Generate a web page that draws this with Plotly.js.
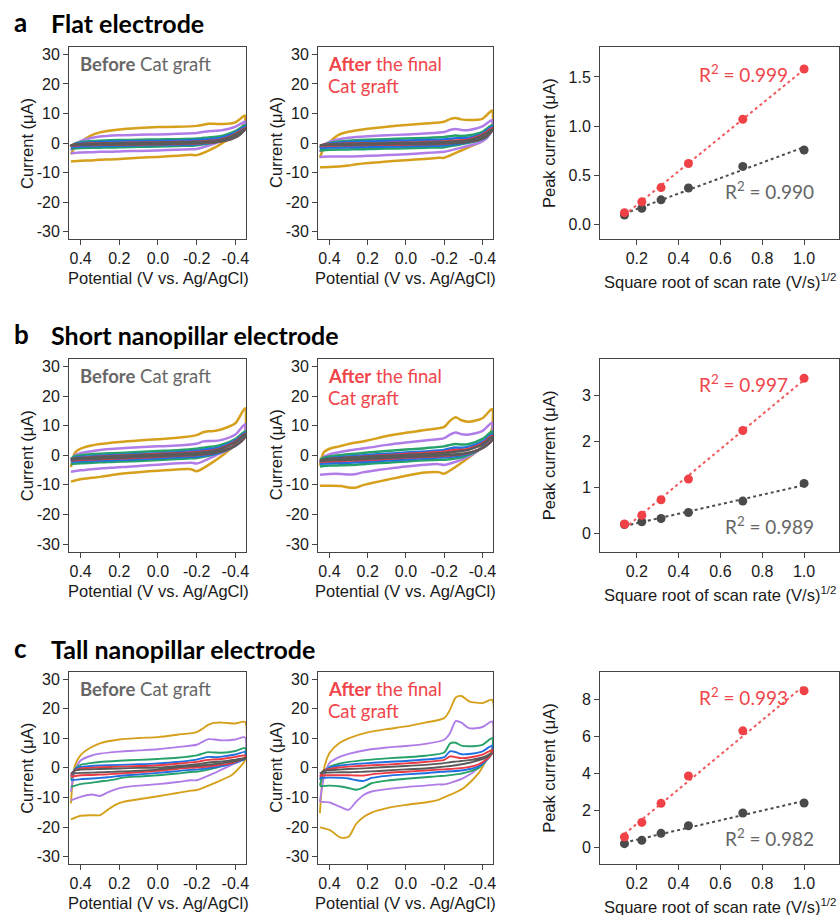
<!DOCTYPE html>
<html><head><meta charset="utf-8">
<script src="https://cdn.plot.ly/plotly-3.0.1.min.js"></script>
<style>html,body{margin:0;padding:0;background:#fff}#chart{width:840px;height:915px}</style>
</head><body><div id="chart"></div>
<script>
// ---------------- DATA ----------------
// potential grid (V vs Ag/AgCl): forward sweep (upper branch) and reverse sweep (lower branch)
const potFwd = [0.45, 0.43, 0.4, 0.35, 0.3, 0.2, 0.1, 0, -0.1, -0.2, -0.23, -0.26, -0.29, -0.33, -0.4, -0.45];
const potRev = [-0.45, -0.42, -0.38, -0.3, -0.2, -0.17, -0.1, 0, 0.1, 0.18, 0.22, 0.26, 0.3, 0.34, 0.4, 0.45];
// scan rates (V/s), order of series in every CV array below
const scanRates = [0.02, 0.05, 0.1, 0.2, 0.5, 1.0];
const seriesColors = ['#5a5a5a', '#ec3b43', '#1f6fe0', '#26a269', '#b07ce8', '#d6a01c'];

// Flat electrode, before
const aBeforeFwd = [
 [-0.8,-0.5,-0.4,-0.3,-0.2,-0.1,0,0.1,0.2,0.3,0.4,0.5,0.6,1.0,2.8,4.8],
 [-0.9,-0.5,-0.3,-0.2,-0.1,0,0.1,0.2,0.3,0.4,0.5,0.7,0.8,1.2,3.0,5.0],
 [-1.2,-0.4,0,0.2,0.3,0.5,0.6,0.7,0.8,1.0,1.1,1.3,1.4,1.8,3.5,5.5],
 [-1.5,-0.2,0.3,0.6,0.8,1.0,1.1,1.2,1.3,1.5,1.7,1.9,2.0,2.4,4.0,6.0],
 [-2.5,-0.6,0.6,1.6,2.2,2.6,2.8,2.9,3.1,3.4,3.7,4.0,4.1,4.3,5.5,7.3],
 [-3.8,-1.5,0.3,2.4,3.6,4.6,5.1,5.4,5.5,5.8,6.1,6.5,6.5,6.4,7.0,9.3]];
const aBeforeRev = [
 [4.6,2.6,1.3,0.3,0,-0.1,-0.2,-0.3,-0.4,-0.4,-0.5,-0.5,-0.5,-0.6,-0.6,-0.8],
 [4.8,2.8,1.4,0.3,-0.1,-0.2,-0.3,-0.4,-0.5,-0.5,-0.6,-0.6,-0.6,-0.7,-0.7,-0.9],
 [5.0,3.0,1.6,0.3,-0.4,-0.5,-0.6,-0.7,-0.8,-0.9,-0.9,-1.0,-1.0,-1.1,-1.2,-1.4],
 [5.5,3.5,2.0,0.3,-0.8,-0.9,-1.0,-1.2,-1.3,-1.4,-1.5,-1.5,-1.6,-1.6,-1.7,-1.9],
 [6.8,3.5,1.8,0,-2.0,-2.1,-2.3,-2.5,-2.7,-2.8,-2.9,-3.0,-3.0,-3.1,-3.2,-3.5],
 [7.5,3.8,2.0,-1.3,-4.1,-4.0,-4.3,-4.7,-5.0,-5.3,-5.5,-5.6,-5.7,-5.9,-6.0,-6.3]];
// Flat electrode, after
const aAfterFwd = [
 [-0.9,-0.6,-0.5,-0.4,-0.3,-0.2,-0.1,0,0.1,0.3,0.4,0.5,0.6,0.9,2.5,4.6],
 [-1.1,-0.6,-0.4,-0.3,-0.2,-0.1,0,0.1,0.3,0.5,0.7,0.8,0.9,1.2,2.8,5.0],
 [-1.5,-0.6,-0.2,0.1,0.3,0.5,0.7,0.8,1.0,1.2,1.4,1.6,1.6,1.8,3.2,5.5],
 [-1.8,-0.6,0,0.5,0.8,1.1,1.3,1.5,1.7,2.0,2.3,2.5,2.4,2.6,3.8,6.0],
 [-3.0,-0.8,0.4,1.3,1.8,2.3,2.6,2.9,3.2,3.7,4.4,4.7,4.4,4.4,5.6,7.7],
 [-5.0,-1.8,0.3,2.8,3.8,4.8,5.5,6.1,6.6,7.2,8.1,8.5,8.0,7.8,8.2,11.0]];
const aAfterRev = [
 [4.2,2.2,1.0,0.2,-0.1,-0.2,-0.3,-0.3,-0.4,-0.5,-0.5,-0.6,-0.6,-0.7,-0.7,-0.8],
 [4.3,2.3,1.1,0.3,-0.2,-0.3,-0.4,-0.5,-0.6,-0.6,-0.7,-0.7,-0.8,-0.8,-0.9,-1.0],
 [4.5,2.2,1.0,0,-0.8,-0.9,-1.0,-1.1,-1.2,-1.3,-1.3,-1.4,-1.4,-1.5,-1.5,-1.7],
 [4.5,2.0,0.9,-0.3,-1.4,-1.5,-1.6,-1.8,-1.9,-2.0,-2.1,-2.1,-2.2,-2.2,-2.3,-2.5],
 [4.5,1.5,0,-1.4,-3.0,-3.1,-3.4,-3.8,-4.1,-4.3,-4.4,-4.5,-4.6,-4.6,-4.6,-4.7],
 [5.0,1.8,0,-2.2,-5.0,-5.0,-5.4,-5.8,-6.3,-6.7,-6.9,-7.2,-7.6,-7.9,-8.1,-8.2]];
// Short nanopillar, before
const bBeforeFwd = [
 [-1.4,-1.1,-1.0,-0.8,-0.6,-0.3,0,0.2,0.5,0.8,1.0,1.2,1.5,2.2,4.4,7.0],
 [-1.5,-1.1,-0.9,-0.7,-0.5,-0.2,0.1,0.4,0.7,1.0,1.2,1.4,1.7,2.4,4.6,7.2],
 [-1.6,-0.9,-0.6,-0.4,-0.2,0.1,0.4,0.7,1.0,1.5,1.8,2.1,2.3,2.9,5.0,7.5],
 [-1.2,-0.3,0,0.3,0.5,0.8,1.1,1.4,1.7,2.2,2.5,2.8,3.0,3.6,5.5,8.0],
 [-2.0,0,0.7,1.3,1.8,2.3,2.7,3.0,3.3,3.9,4.6,4.8,4.8,5.2,7.0,10.5],
 [-4.0,0.8,2.2,3.2,3.8,4.5,5.0,5.4,5.9,6.8,7.7,8.1,8.2,8.8,10.8,15.9]];
const bBeforeRev = [
 [6.2,4.1,2.5,0.9,0.2,0.1,-0.1,-0.3,-0.6,-0.8,-0.9,-1.0,-1.1,-1.2,-1.3,-1.5],
 [6.3,4.2,2.6,0.9,0.1,0,-0.2,-0.5,-0.8,-1.0,-1.1,-1.2,-1.3,-1.4,-1.5,-1.7],
 [6.5,4.3,2.5,0.6,-0.4,-0.5,-0.7,-1.0,-1.3,-1.5,-1.6,-1.7,-1.8,-1.9,-2.0,-2.2],
 [6.5,4.5,2.6,0.5,-0.9,-1.0,-1.3,-1.6,-1.9,-2.1,-2.2,-2.3,-2.4,-2.5,-2.7,-3.0],
 [7.5,5.0,2.5,0,-2.8,-2.5,-2.7,-3.2,-3.6,-4.0,-4.1,-4.3,-4.5,-4.7,-5.1,-5.6],
 [8.0,5.2,2.4,-1.6,-5.4,-4.7,-4.8,-5.2,-5.7,-6.2,-6.5,-6.9,-7.3,-7.6,-8.1,-8.9]];
// Short nanopillar, after
const bAfterFwd = [
 [-1.7,-1.4,-1.2,-1.0,-0.8,-0.5,-0.2,0.1,0.4,0.8,1.0,1.2,1.4,1.9,3.7,6.2],
 [-2.0,-1.5,-1.3,-1.0,-0.8,-0.4,0,0.4,0.8,1.2,1.6,1.8,1.8,2.2,4.0,6.5],
 [-2.2,-1.4,-1.0,-0.7,-0.4,0.1,0.5,0.9,1.3,1.8,2.3,2.6,2.5,2.9,4.6,7.0],
 [-1.5,-0.8,-0.4,0,0.3,0.9,1.4,1.9,2.4,3.0,3.5,3.8,3.6,3.8,5.5,8.0],
 [-2.5,-0.5,0.3,1.0,1.6,2.5,3.5,4.3,5.0,5.8,7.0,7.7,7.1,7.0,8.2,11.0],
 [-3.5,1.0,2.2,3.0,3.8,5.0,6.5,7.6,8.5,9.6,11.6,12.8,11.8,11.3,12.5,15.6]];
const bAfterRev = [
 [5.1,3.2,1.8,0.5,0,-0.1,-0.3,-0.6,-0.9,-1.2,-1.3,-1.4,-1.5,-1.6,-1.7,-1.9],
 [5.3,3.4,1.8,0.4,-0.2,-0.3,-0.5,-0.8,-1.2,-1.5,-1.6,-1.7,-1.8,-1.9,-2.0,-2.2],
 [5.5,3.6,1.8,0.1,-0.7,-0.8,-1.0,-1.4,-1.8,-2.1,-2.3,-2.4,-2.5,-2.6,-2.7,-2.9],
 [6.0,4.0,1.8,-0.5,-1.5,-1.5,-1.7,-2.1,-2.5,-2.8,-3.0,-3.2,-3.3,-3.4,-3.5,-3.8],
 [7.5,4.5,1.7,-1.2,-3.3,-3.0,-3.2,-3.8,-4.6,-5.3,-5.7,-6.3,-6.5,-6.3,-6.3,-6.6],
 [9.0,5.2,1.9,-2.1,-6.2,-5.7,-5.8,-6.9,-8.3,-9.4,-10.0,-10.9,-10.9,-10.4,-10.3,-10.3]];
// Tall nanopillar, before
const cBeforeFwd = [
 [-2.0,-0.9,-0.6,-0.5,-0.4,-0.2,0,0.1,0.6,1.2,1.5,1.8,2.0,2.2,2.8,3.3],
 [-2.5,-0.8,-0.2,0,0.2,0.4,0.6,0.9,1.4,2.0,2.4,2.7,2.8,3.0,3.7,4.2],
 [-3.0,-0.5,0.3,0.6,0.8,1.0,1.2,1.5,2.0,2.8,3.3,3.7,3.6,3.8,4.5,5.4],
 [-4.0,-0.5,1.0,1.6,2.0,2.4,2.7,3.0,3.4,4.2,4.8,5.3,5.2,5.1,5.7,6.7],
 [-8.0,-1.0,2.5,4.0,4.8,5.5,5.9,6.3,7.0,7.8,8.8,9.7,9.6,9.3,9.6,10.3],
 [-12.0,0.5,4.3,6.8,8.3,9.6,10.1,10.4,11.2,12.1,13.2,14.5,15.2,15.3,15.0,15.5]];
const cBeforeRev = [
 [3.0,2.6,2.0,1.3,0.6,0.5,0.1,-0.6,-1.0,-1.2,-1.3,-1.4,-1.5,-1.6,-1.7,-1.9],
 [3.5,2.5,1.6,0.8,0.1,0,-0.3,-1.0,-1.5,-1.8,-2.0,-2.2,-2.3,-2.4,-2.5,-3.0],
 [3.0,2.2,1.4,0.3,-0.6,-0.7,-1.1,-1.7,-2.2,-2.6,-2.9,-3.2,-3.4,-3.6,-3.8,-4.2],
 [3.1,2.4,1.5,0,-1.3,-1.4,-1.9,-2.5,-2.9,-3.3,-3.9,-4.3,-4.6,-5.0,-5.5,-6.4],
 [3.7,2.2,1.0,-1.5,-4.2,-4.2,-4.8,-5.5,-6.0,-6.6,-7.3,-8.3,-9.5,-9.0,-9.8,-11.0],
 [2.6,0,-2.5,-4.9,-7.5,-7.7,-8.5,-9.6,-10.6,-11.5,-12.5,-14.2,-16.0,-16.0,-16.2,-17.4]];
// Tall nanopillar, after
const cAfterFwd = [
 [-2.0,-1.0,-0.8,-0.6,-0.4,-0.1,0.3,0.6,1.0,1.6,1.9,2.1,2.3,2.6,3.5,5.0],
 [-3.0,-0.9,-0.4,0.1,0.4,0.8,1.1,1.5,2.0,2.7,3.9,3.6,3.3,3.5,4.5,6.0],
 [-4.0,-1.0,0.1,0.7,1.1,1.6,2.0,2.3,2.8,3.6,5.6,5.3,4.6,4.7,5.6,7.5],
 [-6.0,-1.5,0.3,1.4,2.0,2.7,3.2,3.6,4.1,5.2,8.2,8.5,7.5,7.3,7.8,10.0],
 [-11.5,-3.5,1.6,3.6,4.7,6.1,6.9,7.4,8.1,9.5,11.7,15.8,15.3,13.4,13.8,15.7],
 [-15.3,-0.7,5.0,8.3,10.0,12.0,13.1,14.0,15.3,16.8,19.6,23.8,24.3,22.5,21.9,23.0]];
const cAfterRev = [
 [5.0,3.5,2.5,1.3,0.4,0.2,-0.2,-0.5,-0.9,-1.2,-1.3,-1.4,-1.5,-1.5,-1.6,-1.7],
 [5.0,2.8,1.2,0,-0.5,-0.6,-0.9,-1.3,-1.7,-2.2,-2.6,-2.6,-2.5,-2.5,-2.5,-2.6],
 [5.0,2.5,0.5,-0.8,-1.3,-1.4,-1.8,-2.2,-2.7,-3.4,-4.4,-4.2,-3.6,-3.4,-3.3,-3.4],
 [5.0,2.5,0,-1.8,-2.7,-2.8,-3.2,-3.7,-4.3,-5.2,-6.6,-7.4,-6.8,-6.3,-6.0,-6.2],
 [5.5,3.0,0,-3.5,-5.6,-5.6,-6.0,-6.5,-7.2,-8.0,-9.1,-11.4,-14.2,-13.3,-11.7,-11.4],
 [6.5,2.7,-1.8,-6.9,-10.0,-10.8,-11.7,-12.5,-13.6,-15.1,-16.5,-18.9,-23.3,-23.6,-21.0,-20.1]];

// Peak current vs square root of scan rate
const sqrtScanRate = [0.141, 0.224, 0.316, 0.447, 0.707, 1.0];
const flatAfterPeak   = [0.12, 0.23, 0.375, 0.62, 1.07, 1.58];
const flatBeforePeak  = [0.095, 0.165, 0.25, 0.37, 0.59, 0.757];
const shortAfterPeak  = [0.2, 0.39, 0.73, 1.18, 2.24, 3.38];
const shortBeforePeak = [0.19, 0.25, 0.32, 0.45, 0.7, 1.085];
const tallAfterPeak   = [0.56, 1.35, 2.38, 3.86, 6.3, 8.47];
const tallBeforePeak  = [0.2, 0.38, 0.76, 1.17, 1.86, 2.4];
const r2After  = ['0.999', '0.997', '0.993'];
const r2Before = ['0.990', '0.989', '0.982'];

const panelLetters = ['a', 'b', 'c'];
const panelTitles = ['Flat electrode', 'Short nanopillar electrode', 'Tall nanopillar electrode'];
const cvTickVals = [0.4, 0.2, 0, -0.2, -0.4];
const cvTickText = ['0.4', '0.2', '0.0', '-0.2', '-0.4'];
const curTickVals = [-30, -20, -10, 0, 10, 20, 30];
const curTickText = ['-30', '-20', '-10', '0', '10', '20', '30'];
const rateTickVals = [0.2, 0.4, 0.6, 0.8, 1.0];
const rateTickText = ['0.2', '0.4', '0.6', '0.8', '1.0'];
const peakTickVals = [[0, 0.5, 1.0, 1.5], [0, 1, 2, 3], [0, 2, 4, 6, 8]];
const peakTickText = [['0.0', '0.5', '1.0', '1.5'], ['0', '1', '2', '3'], ['0', '2', '4', '6', '8']];

// ---------------- LAYOUT ----------------
const W = 840, H = 915;
const FT = 'Liberation Sans, Arial, sans-serif';
const FC = 'Lato, Carlito, sans-serif';
const rowTop = [47, 359, 671.7], rowBot = [239, 551.5, 864];
const colL = [69, 318, 600], colR = [246, 493, 839];
const peakRanges = [[-0.148, 1.804], [-0.4, 3.8], [-0.9, 9.5]];
const px = v => v / W, py = v => 1 - v / H;

const cvSets = [[aBeforeFwd, aBeforeRev, aAfterFwd, aAfterRev],
                [bBeforeFwd, bBeforeRev, bAfterFwd, bAfterRev],
                [cBeforeFwd, cBeforeRev, cAfterFwd, cAfterRev]];
const peakSets = [[flatBeforePeak, flatAfterPeak], [shortBeforePeak, shortAfterPeak], [tallBeforePeak, tallAfterPeak]];

const traces = [];
const layout = {width: W, height: H, margin: {l: 0, r: 0, t: 0, b: 0}, showlegend: false,
  paper_bgcolor: '#fff', plot_bgcolor: '#fff', annotations: [], font: {family: FT, color: '#1a1a1a'}};

function axBase() {
  return {showgrid: false, zeroline: false, showline: true, mirror: true, linecolor: '#444', linewidth: 1,
    ticks: 'outside', ticklen: 5, tickwidth: 1, tickcolor: '#444', tickmode: 'array',
    tickfont: {family: FT, size: 16, color: '#1a1a1a'}, fixedrange: true};
}
function ann(text, x, y, opt) {
  layout.annotations.push(Object.assign({text: text, x: px(x), y: py(y), xref: 'paper', yref: 'paper',
    showarrow: false, xanchor: 'left', yanchor: 'middle', font: {family: FC, size: 18, color: '#000'}}, opt || {}));
}

function linfit(x, y) {
  const n = x.length; let sx = 0, sy = 0, sxx = 0, sxy = 0;
  for (let i = 0; i < n; i++) { sx += x[i]; sy += y[i]; sxx += x[i] * x[i]; sxy += x[i] * y[i]; }
  const b = (n * sxy - sx * sy) / (n * sxx - sx * sx); const a = (sy - b * sx) / n;
  const x0 = Math.min(...x), x1 = Math.max(...x);
  return {x: [x0, x1], y: [a + b * x0, a + b * x1]};
}

for (let r = 0; r < 3; r++) {
  for (let c = 0; c < 3; c++) {
    const idx = r * 3 + c + 1;
    const xa = 'xaxis' + (idx === 1 ? '' : idx), ya = 'yaxis' + (idx === 1 ? '' : idx);
    const xr = 'x' + (idx === 1 ? '' : idx), yr = 'y' + (idx === 1 ? '' : idx);
    const X = axBase(), Y = axBase();
    X.domain = [px(colL[c]), px(colR[c])]; X.anchor = yr;
    Y.domain = [py(rowBot[r]), py(rowTop[r])]; Y.anchor = xr;
    if (c < 2) {
      X.range = [0.46, -0.455]; X.tickvals = cvTickVals; X.ticktext = cvTickText;
      Y.range = [-32.5, 32.5]; Y.tickvals = curTickVals; Y.ticktext = curTickText;
      const fw = cvSets[r][c * 2], rv = cvSets[r][c * 2 + 1];
      const lw = r < 2 ? 2.5 : 1.9;
      for (let s = 5; s >= 0; s--) {
        traces.push({type: 'scatter', mode: 'lines', xaxis: xr, yaxis: yr,
          x: potFwd.concat(potRev), y: fw[s].concat(rv[s]),
          line: {color: seriesColors[s], width: lw, shape: 'spline', smoothing: 0.7},
          hoverinfo: 'skip', name: scanRates[s] + ' V/s'});
      }
    } else {
      X.range = [0.024, 1.167]; X.tickvals = rateTickVals; X.ticktext = rateTickText;
      Y.range = peakRanges[r]; Y.tickvals = peakTickVals[r]; Y.ticktext = peakTickText[r];
      const [bef, aft] = peakSets[r];
      const fb = linfit(sqrtScanRate, bef), fa = linfit(sqrtScanRate, aft);
      traces.push({type: 'scatter', mode: 'lines', xaxis: xr, yaxis: yr, x: fb.x, y: fb.y,
        line: {color: '#4d4d4d', width: 2, dash: 'dot'}, hoverinfo: 'skip'});
      traces.push({type: 'scatter', mode: 'markers', xaxis: xr, yaxis: yr, x: sqrtScanRate, y: bef,
        marker: {color: '#4a4a4a', size: 9}, hoverinfo: 'skip'});
      traces.push({type: 'scatter', mode: 'lines', xaxis: xr, yaxis: yr, x: fa.x, y: fa.y,
        line: {color: '#f05a5e', width: 2, dash: 'dot'}, hoverinfo: 'skip'});
      traces.push({type: 'scatter', mode: 'markers', xaxis: xr, yaxis: yr, x: sqrtScanRate, y: aft,
        marker: {color: '#ef4146', size: 9}, hoverinfo: 'skip'});
    }
    layout[xa] = X; layout[ya] = Y;
  }
  // headings
  const hy = [23, 335, 649][r];
  ann('<b>' + panelLetters[r] + '</b>', 12, hy - 1, {font: {family: FC, size: 26, color: '#000'}});
  ann('<b>' + panelTitles[r] + '</b>', 49, hy, {font: {family: FC, size: 25, color: '#000'}});
  // inner labels
  ann('<b>Before</b> Cat graft', 78, rowTop[r] + 17, {font: {family: FC, size: 18.5, color: '#666'}});
  ann('<b>After</b> the final', 326, rowTop[r] + 17, {font: {family: FC, size: 18.5, color: '#f0454a'}});
  ann('Cat graft', 326, rowTop[r] + 39, {font: {family: FC, size: 18.5, color: '#f0454a'}});
  // R2 labels
  ann('R<sup>2</sup> = ' + r2After[r], 697, [73.3, 383.3, 696][r], {font: {family: FC, size: 19, color: '#f0454a'}});
  ann('R<sup>2</sup> = ' + r2Before[r], 723, [190.7, 525, 837.3][r], {font: {family: FC, size: 19, color: '#666'}});
  // axis titles
  const mid = (rowTop[r] + rowBot[r]) / 2;
  const tf = {family: FT, size: 16.5, color: '#1a1a1a'};
  ann('Current (μA)', 27, mid, {xanchor: 'center', textangle: -90, font: tf});
  ann('Current (μA)', 276, mid, {xanchor: 'center', textangle: -90, font: tf});
  ann('Peak current (μA)', 549, mid, {xanchor: 'center', textangle: -90, font: tf});
  ann('Potential (V vs. Ag/AgCl)', 158, rowBot[r] + 39, {xanchor: 'center', font: tf});
  ann('Potential (V vs. Ag/AgCl)', 405, rowBot[r] + 39, {xanchor: 'center', font: tf});
  ann('Square root of scan rate (V/s)<sup>1/2</sup>', 720, rowBot[r] + 42, {xanchor: 'center', font: tf});
}

Plotly.newPlot('chart', traces, layout, {staticPlot: true, displayModeBar: false});
</script></body></html>
